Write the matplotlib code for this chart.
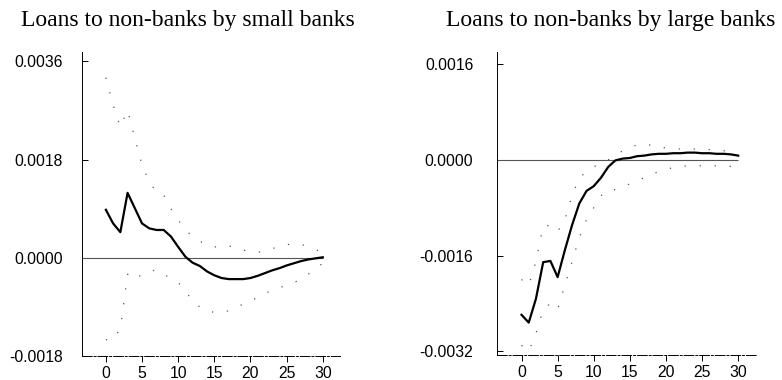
import matplotlib
matplotlib.use("Agg")
import matplotlib.pyplot as plt
from matplotlib.ticker import FuncFormatter

plt.rcParams['axes.unicode_minus'] = False

# impulse responses, horizon 0..30
periods = list(range(31))

small_resp = [0.00088, 0.00063, 0.00047, 0.00119, 0.00091, 0.00063, 0.00054, 0.00051,
              0.00051, 0.00039, 0.00020, 0.00002, -0.00009, -0.00015, -0.00025, -0.00032,
              -0.00037, -0.00039, -0.00039, -0.00039, -0.00037, -0.00033, -0.00028, -0.00023,
              -0.00019, -0.00014, -0.00010, -0.00006, -0.00003, -0.00001, 0.00001]
small_upper = [0.0033, 0.0028, 0.0024, 0.0027, 0.0022, 0.0017, 0.0014, 0.0012,
               0.00115, 0.0009, 0.0007, 0.0005, 0.0004, 0.0003, 0.00025, 0.0002,
               0.0002, 0.00022, 0.00018, 0.00014, 0.00012, 0.0001, 0.00013, 0.00017,
               0.0002, 0.00024, 0.00026, 0.00025, 0.0002, 0.00015, 0.0001]
small_lower = [-0.0015, -0.0015, -0.0013, -0.0003, -0.0004, -0.0003, -0.00025, -0.00022,
               -0.0003, -0.00038, -0.00045, -0.0006, -0.0008, -0.0009, -0.00097, -0.001,
               -0.001, -0.00097, -0.0009, -0.00085, -0.0008, -0.00072, -0.00065, -0.0006,
               -0.00055, -0.0005, -0.00045, -0.0004, -0.0003, -0.0002, -0.0001]

large_resp = [-0.00259, -0.00272, -0.00232, -0.00171, -0.00169, -0.00196, -0.00151, -0.00109,
              -0.00073, -0.00052, -0.00044, -0.00030, -0.00012, -0.00001, 0.00002, 0.00003,
              0.00006, 0.00007, 0.00009, 0.00010, 0.00010, 0.00011, 0.00011, 0.00012,
              0.00012, 0.00011, 0.00011, 0.00010, 0.00010, 0.00009, 0.00007]
large_upper = [-0.0020, -0.0021, -0.0017, -0.0011, -0.0011, -0.0012, -0.0010, -0.0006,
               -0.0003, -0.0002, -0.00012, -0.00005, 0.0, 0.00008, 0.00015, 0.0002,
               0.00025, 0.00027, 0.00024, 0.00021, 0.0002, 0.00019, 0.00018, 0.00018,
               0.00018, 0.00017, 0.00017, 0.00016, 0.00015, 0.00014, 0.00013]
large_lower = [-0.0031, -0.0032, -0.0029, -0.0025, -0.0024, -0.0025, -0.0021, -0.0017,
               -0.0013, -0.0010, -0.0008, -0.0006, -0.0005, -0.0005, -0.00046, -0.0004,
               -0.00035, -0.0003, -0.00024, -0.0002, -0.00016, -0.00013, -0.00011, -0.0001,
               -0.0001, -0.0001, -0.0001, -0.0001, -0.0001, -0.00011, -0.0001]

titles = ["Loans to non-banks by small banks", "Loans to non-banks by large banks"]
small_yticks = [-0.0018, 0.0, 0.0018, 0.0036]
large_yticks = [-0.0032, -0.0016, 0.0, 0.0016]
xticks = [0, 5, 10, 15, 20, 25, 30]

fig = plt.figure(figsize=(7.82, 3.8), dpi=100)
ax1 = fig.add_axes([0.1049, 0.063, 0.330, 0.800])
ax2 = fig.add_axes([0.6355, 0.066, 0.3325, 0.797])

panels = [
    (ax1, small_resp, small_upper, small_lower, small_yticks, (-3.3, 32.4), (-0.0018, 0.00377), 14),
    (ax2, large_resp, large_upper, large_lower, large_yticks, (-3.4, 32.6), (-0.00326, 0.0018), 17),
]

for ax, resp, upper, lower, yticks, xlim, ylim, ypad in panels:
    ax.set_xlim(*xlim)
    ax.set_ylim(*ylim)
    ax.hlines(0, xlim[0], 30, color='#555555', linewidth=0.8)
    # confidence bands: sparse dots
    ax.plot(periods, upper, color='#555555', linewidth=0.9, linestyle=(0, (1, 11)))
    ax.plot(periods, lower, color='#555555', linewidth=0.9, linestyle=(0, (1, 11)))
    ax.plot(periods, resp, color='black', linewidth=1.6)

    for side in ['top', 'right']:
        ax.spines[side].set_visible(False)
    ax.spines['left'].set_linewidth(0.7)
    ax.spines['bottom'].set_linewidth(0.7)
    ax.spines['bottom'].set_linestyle((0, (10, 2, 2, 2)))

    ax.set_yticks(yticks)
    ax.yaxis.set_major_formatter(FuncFormatter(lambda v, p: '%.4f' % v))
    ax.set_xticks(xticks)
    ax.tick_params(axis='y', direction='in', length=4, width=0.7, pad=ypad,
                   labelsize=11.3, labelfontfamily='Liberation Sans')
    ax.tick_params(axis='x', direction='out', length=4, width=0.7, pad=3,
                   labelsize=11.3, labelfontfamily='Liberation Sans')

fig.text(0.2404, 0.945, titles[0], ha='center', va='center',
         fontsize=17, family='Liberation Serif')
fig.text(0.7813, 0.945, titles[1], ha='center', va='center',
         fontsize=17, family='Liberation Serif')

fig.savefig('out.png', dpi=100)
